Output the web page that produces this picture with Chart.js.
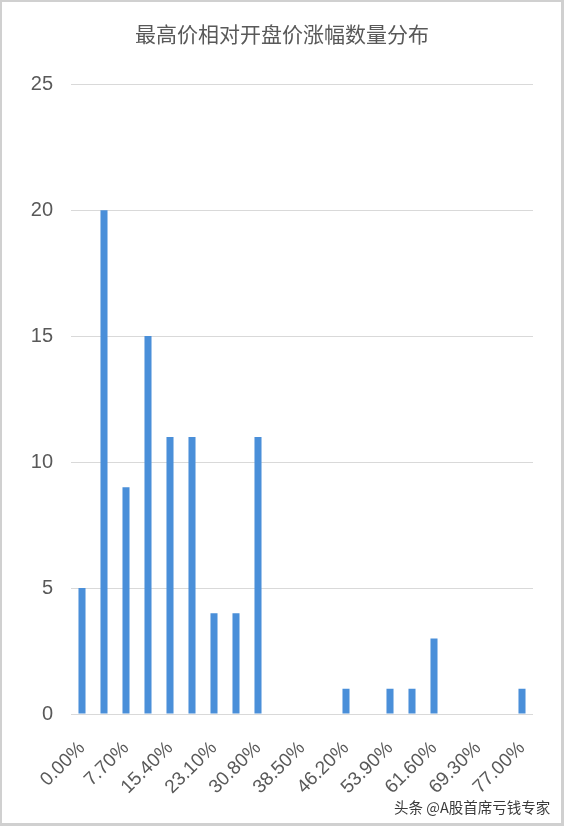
<!DOCTYPE html>
<html>
<head>
<meta charset="utf-8">
<script src="https://cdn.jsdelivr.net/npm/chart.js@4"></script>
<style>
  html, body { margin: 0; padding: 0; background: #fff; }
  #wrap { position: relative; width: 564px; height: 826px; }
  #frame { position: absolute; left: 0; top: 0; width: 564px; height: 826px; box-sizing: border-box;
           border: 2px solid #d0d0d0; border-right-width: 3px; border-bottom-width: 3px; pointer-events: none; }
  #mark { position: absolute; left: 394px; top: 796px; font: 14.5px "Noto Sans CJK SC", sans-serif;
          color: #3a3a3a; text-shadow: 0 0 2px #fff; white-space: nowrap; }
</style>
</head>
<body>
<div id="wrap">
  <canvas id="chart" width="564" height="826"></canvas>
  <div id="frame"></div>
  <div id="mark">头条 @A股首席亏钱专家</div>
</div>
<script>
// Data
const titleText = "最高价相对开盘价涨幅数量分布";
const categories = ["0.00%", "3.85%", "7.70%", "11.55%", "15.40%", "19.25%", "23.10%", "26.95%",
  "30.80%", "34.65%", "38.50%", "42.35%", "46.20%", "50.05%", "53.90%", "57.75%",
  "61.60%", "65.45%", "69.30%", "73.15%", "77.00%"];
const counts = [5, 20, 9, 15, 11, 11, 4, 4, 11, 0, 0, 0, 1, 0, 1, 1, 3, 0, 0, 0, 1];
const yTicks = [0, 5, 10, 15, 20, 25];

const textColor = "#595959";
const gridColor = "#d9d9d9";

const ctx = document.getElementById("chart").getContext("2d");
new Chart(ctx, {
  type: "bar",
  data: {
    labels: categories,
    datasets: [{
      data: counts,
      backgroundColor: "#4a8fd9",
      borderWidth: 0,
      barPercentage: 0.32,
      categoryPercentage: 1
    }]
  },
  options: {
    responsive: false,
    animation: false,
    // equal side padding keeps the title centred on the canvas
    layout: { padding: { left: 31, right: 31, top: 0, bottom: 0 } },
    plugins: {
      legend: { display: false },
      tooltip: { enabled: false },
      title: {
        display: true,
        text: titleText,
        color: textColor,
        font: { family: "'Noto Sans CJK SC', sans-serif", size: 21, weight: "normal" },
        padding: { top: 21, bottom: 38 }
      }
    },
    scales: {
      x: {
        grid: { display: false },
        border: { display: false },
        ticks: {
          autoSkip: false,
          minRotation: 45,
          maxRotation: 45,
          padding: 15,
          color: textColor,
          font: { family: "'Liberation Sans', sans-serif", size: 19 },
          callback: (v, i) => i % 2 === 0 ? categories[i] : ""
        },
        afterFit: s => { s.height = 112; }
      },
      y: {
        min: yTicks[0],
        max: yTicks[yTicks.length - 1],
        border: { display: false },
        grid: { color: gridColor, lineWidth: 1, drawTicks: false },
        ticks: {
          stepSize: 5,
          padding: 18,
          color: textColor,
          font: { family: "'Liberation Sans', sans-serif", size: 20 }
        },
        afterFit: s => { s.width = 40; }
      }
    }
  }
});
</script>
</body>
</html>
